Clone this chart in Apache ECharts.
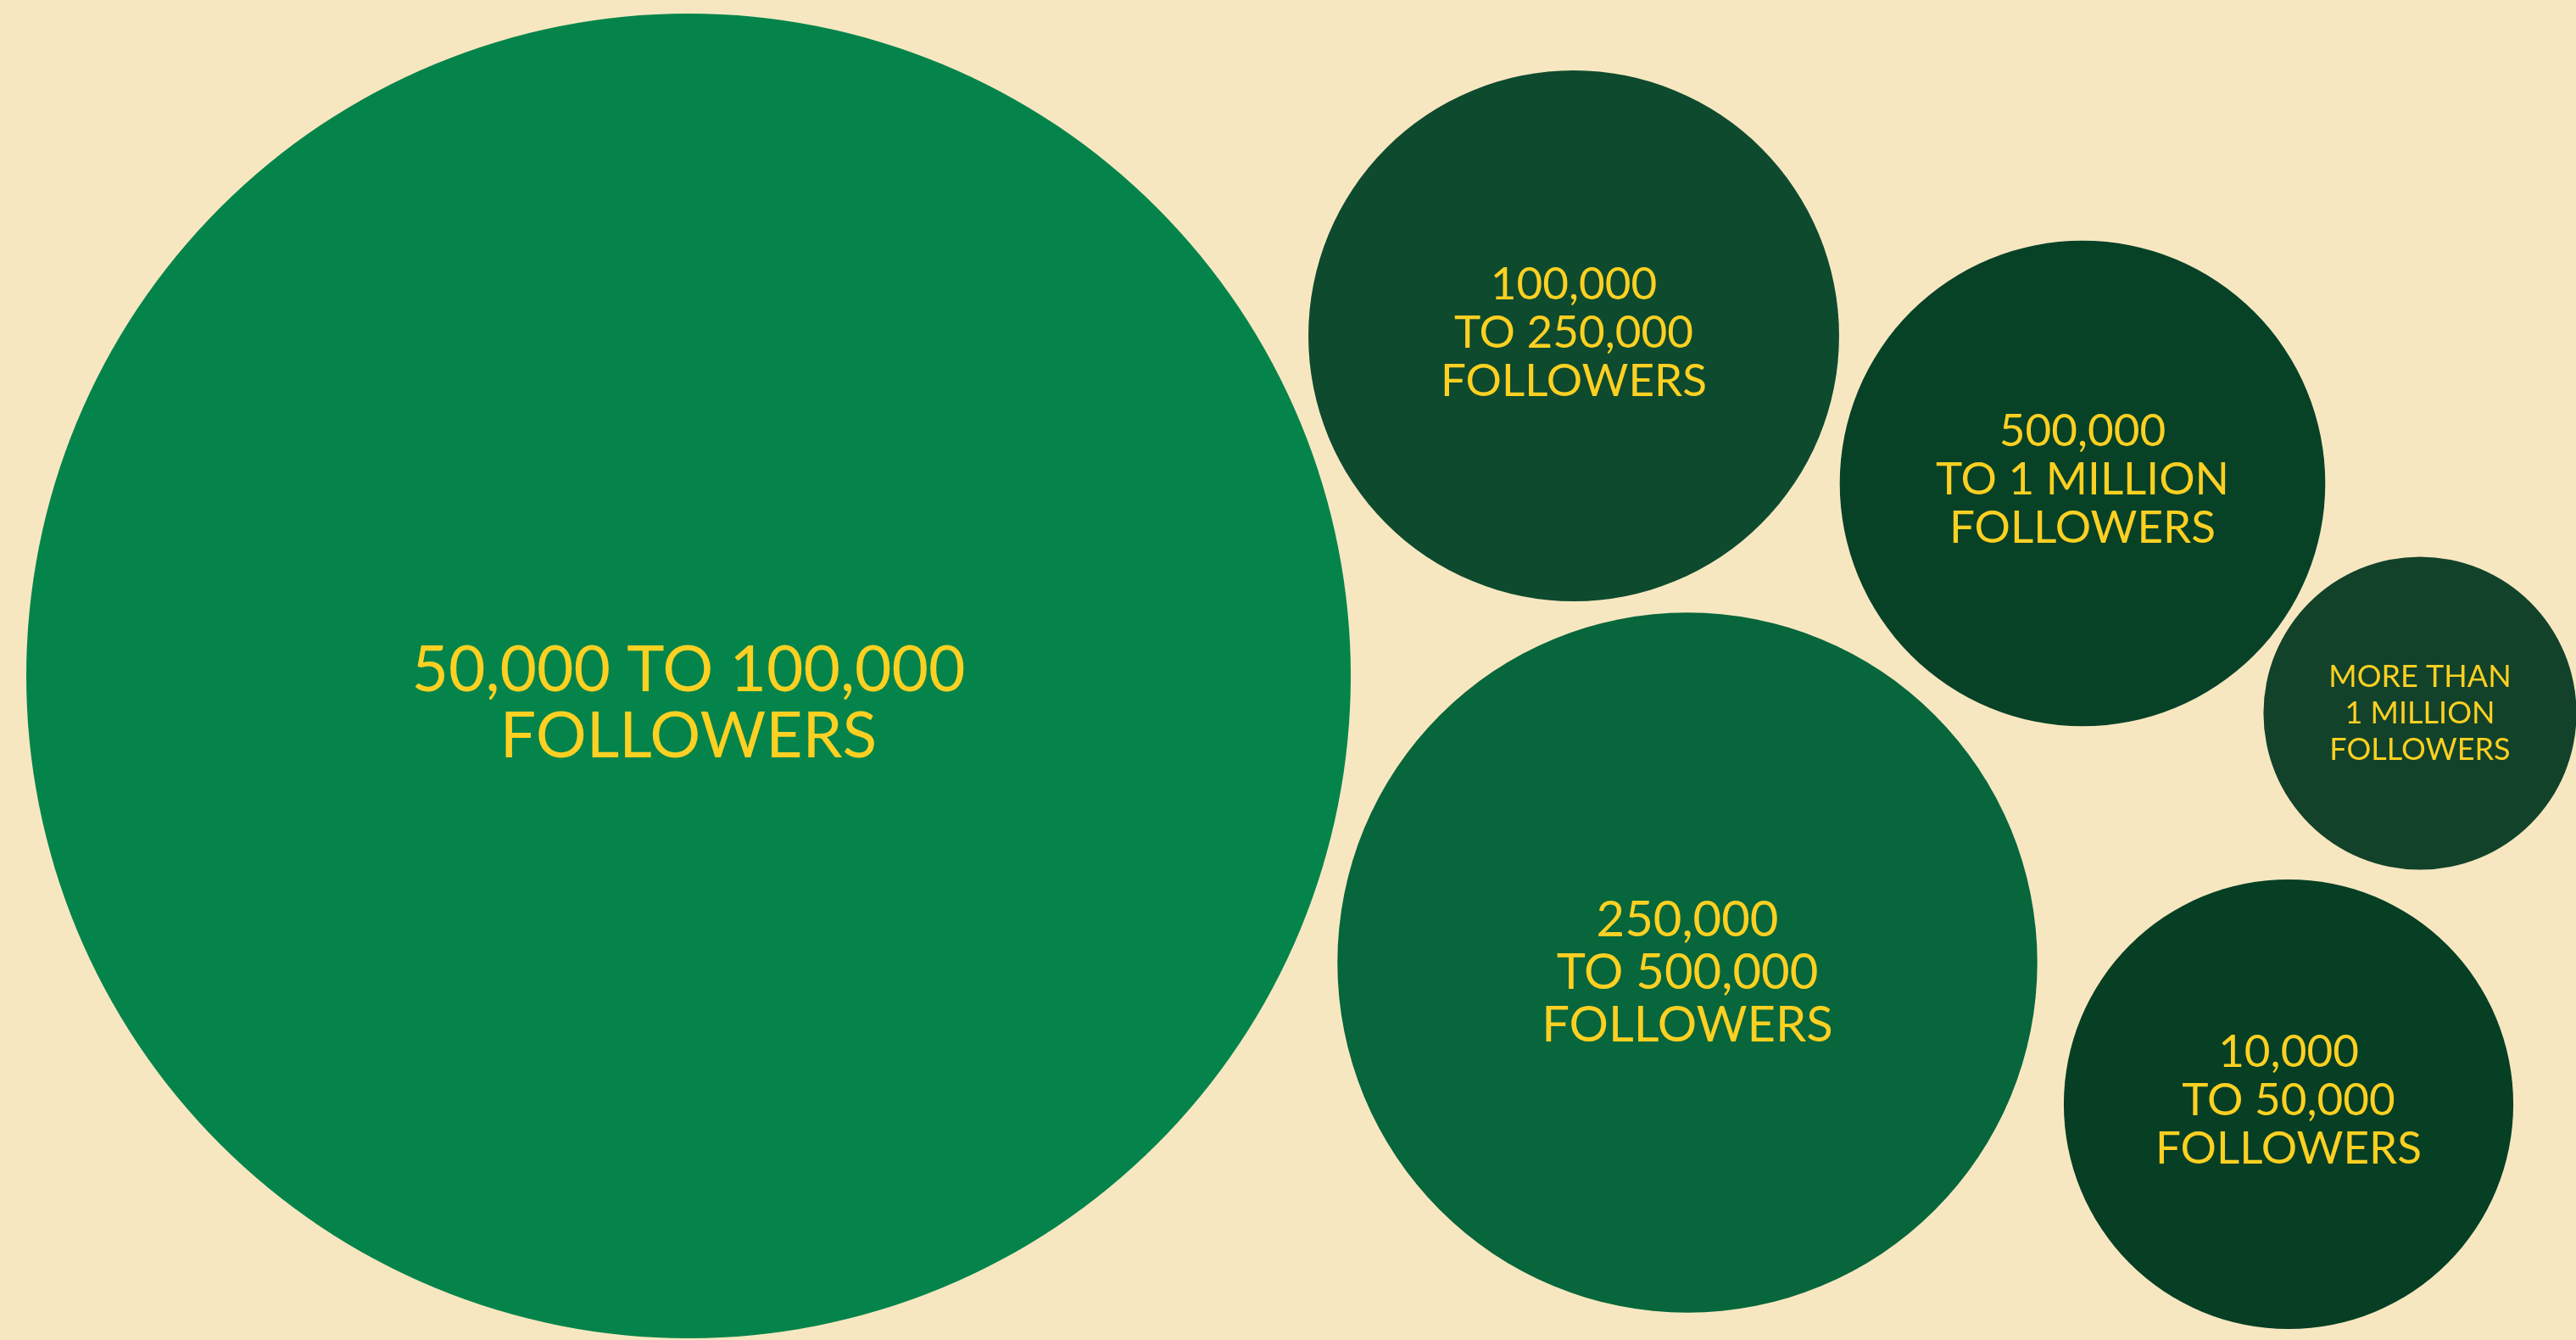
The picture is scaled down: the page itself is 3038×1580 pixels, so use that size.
<!DOCTYPE html>
<html>
<head>
<meta charset="utf-8">
<script src="https://cdn.jsdelivr.net/npm/echarts@6/dist/echarts.min.js"></script>
<style>
html,body{margin:0;padding:0;background:#F7E7C1;}
#chart{width:3038px;height:1580px;}
</style>
</head>
<body>
<div id="chart"></div>
<script>
// Categories (follower tiers)
const categories = [
  "50,000 TO 100,000\nFOLLOWERS",
  "100,000\nTO 250,000\nFOLLOWERS",
  "500,000\nTO 1 MILLION\nFOLLOWERS",
  "MORE THAN\n1 MILLION\nFOLLOWERS",
  "250,000\nTO 500,000\nFOLLOWERS",
  "10,000\nTO 50,000\nFOLLOWERS"
];
// Share of influencers (%) — bubble area
const shares = [57.3, 9.2, 7.7, 3.2, 16.0, 6.6];
// Bubble layout positions (axis units)
const posX = [812, 1856, 2456, 2854, 1990, 2699];
const posY = [797, 396, 570, 841, 1135, 1302];

// Styles
const palette = ["#04844A", "#0E4A2E", "#074227", "#12432A", "#07663B", "#063F24"];
const fontSizes = [75, 53, 53, 36, 58, 53];
const lineHeights = [78, 57, 57, 43, 62, 57];
const labelOffsets = [[0, 33], [0, -3], [0, -4], [0, 0], [0, 12], [0, -4]];
const maxDiameter = 1562;

const maxShare = Math.max(...shares);
const data = categories.map((c, i) => ({
  name: c,
  value: [posX[i], posY[i], shares[i]],
  itemStyle: { color: palette[i], opacity: 1 },
  label: {
    fontSize: fontSizes[i],
    lineHeight: lineHeights[i],
    offset: labelOffsets[i]
  }
}));

const chart = echarts.init(document.getElementById('chart'), null, { renderer: 'canvas' });
chart.setOption({
  backgroundColor: '#F7E7C1',
  animation: false,
  grid: { left: 0, right: 0, top: 0, bottom: 0 },
  xAxis: { type: 'value', min: 0, max: 3038, show: false },
  yAxis: { type: 'value', min: 0, max: 1580, inverse: true, show: false },
  series: [{
    type: 'scatter',
    symbol: 'circle',
    symbolSize: function (val) { return maxDiameter * Math.sqrt(val[2] / maxShare); },
    data: data,
    itemStyle: { opacity: 1 },
    label: {
      show: true,
      position: 'inside',
      formatter: p => p.name,
      color: '#FDD022',
      fontFamily: 'Lato, "Noto Sans", sans-serif',
      fontWeight: 400,
      align: 'center'
    },
    emphasis: { disabled: true }
  }]
});
</script>
</body>
</html>
